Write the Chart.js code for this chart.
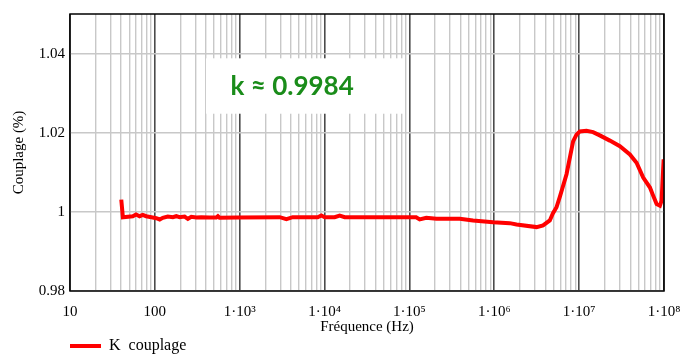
<!DOCTYPE html>
<html>
<head>
<meta charset="utf-8">
<script src="https://cdn.jsdelivr.net/npm/chart.js@4.4.1/dist/chart.umd.min.js"></script>
<style>
html,body{margin:0;padding:0;background:#fff;}
#wrap{width:681px;height:356px;}
</style>
</head>
<body>
<div id="wrap"><canvas id="c" width="681" height="356"></canvas></div>
<script>
// ---- data ----
const freqHz = [40.2, 42, 55, 60, 66, 72, 79, 91, 104, 114, 124, 142, 163, 179, 195, 224, 245, 269, 308, 352, 442, 530, 553, 579, 912,
  2960, 3550, 4210, 8300, 9160, 10030, 13150, 15070, 17260, 1.2e5, 1.32e5, 1.58e5, 2.08e5, 2.28e5, 3.92e5, 5.62e5, 9.68e5,
  1.52e6, 1.83e6, 3.15e6, 3.76e6, 4.51e6, 4.9e6, 5.41e6, 5.92e6, 7.1e6, 8.49e6, 9.3e6, 1.02e7, 1.22e7, 1.46e7, 1.75e7, 2.3e7,
  3.02e7, 3.96e7, 4.75e7, 5.69e7, 6.83e7, 7.45e7, 8.19e7, 8.95e7, 9.37e7, 9.9e7];
const kCoupling = [1.0031, 0.99865, 0.9989, 0.99933, 0.9989, 0.99925, 0.9989, 0.99865, 0.9984, 0.99808, 0.9985, 0.99883, 0.99865, 0.9989, 0.99865, 0.99883, 0.99825, 0.99875, 0.99858, 0.99865, 0.99858, 0.99858, 0.9989, 0.9985, 0.9986,
  0.99865, 0.99815, 0.99865, 0.99865, 0.99908, 0.99865, 0.99865, 0.99908, 0.99865, 0.99862, 0.99808, 0.9985, 0.99825, 0.99825, 0.99825, 0.99783, 0.9974,
  0.99715, 0.99683, 0.99615, 0.99658, 0.99783, 0.99958, 1.00115, 1.0038, 1.0095, 1.01783, 1.0195, 1.02033, 1.0205, 1.02015, 1.01933, 1.018,
  1.01658, 1.0145, 1.0124, 1.00865, 1.00615, 1.0041, 1.002, 1.00158, 1.00283, 1.0133];
const seriesName = 'K  couplage';
const xDecades = [10, 100, 1e3, 1e4, 1e5, 1e6, 1e7, 1e8];
const xTickLabels = ['10', '100', '1\u00b710\u00b3', '1\u00b710\u2074', '1\u00b710\u2075', '1\u00b710\u2076', '1\u00b710\u2077', '1\u00b710\u2078'];
const yTickValues = [0.98, 1.0, 1.02, 1.04];
const yTickLabels = ['0.98', '1', '1.02', '1.04'];
const annotationText = 'k \u2248 0.9984';
const annotationBox = {xMin: 400, xMax: 8.8e4, yMin: 1.0248, yMax: 1.0388, xText: 4150, yText: 1.0316};

const points = freqHz.map((f, i) => ({x: f, y: kCoupling[i]}));
const serif = 'Liberation Serif';

const framePlugin = {
  id: 'frame',
  afterLayout(chart) {
    const lg = chart.legend;
    if (lg) { lg.left = chart.chartArea.left; lg.top = 338; }
  },
  beforeDatasetsDraw(chart) {
    const {ctx, scales: {x, y}} = chart;
    const l = x.getPixelForValue(annotationBox.xMin), r = x.getPixelForValue(annotationBox.xMax);
    const t = y.getPixelForValue(annotationBox.yMax), b = y.getPixelForValue(annotationBox.yMin);
    ctx.save();
    ctx.fillStyle = '#ffffff';
    ctx.fillRect(l, t, r - l, b - t);
    ctx.fillStyle = '#1a8c1a';
    ctx.font = 'bold 26px Lato';
    ctx.textAlign = 'center';
    ctx.textBaseline = 'middle';
    ctx.fillText(annotationText, x.getPixelForValue(annotationBox.xText), y.getPixelForValue(annotationBox.yText));
    ctx.restore();
  },
  afterDraw(chart) {
    const {ctx, chartArea: a} = chart;
    ctx.save();
    ctx.strokeStyle = '#000';
    ctx.lineWidth = 1.5;
    ctx.strokeRect(a.left, a.top, a.right - a.left, a.bottom - a.top);
    ctx.restore();
  }
};

function logGridTicks() {
  const t = [];
  for (let d = 0; d < xDecades.length; d++) {
    t.push({value: xDecades[d], major: true});
    if (d < xDecades.length - 1) for (let m = 2; m <= 9; m++) t.push({value: xDecades[d] * m, major: false});
  }
  return t;
}

new Chart(document.getElementById('c'), {
  type: 'line',
  data: {
    datasets: [{
      label: seriesName,
      data: points,
      borderColor: '#ff0000',
      backgroundColor: '#ff0000',
      borderWidth: 4,
      pointRadius: 0,
      tension: 0,
      pointStyle: 'line'
    }]
  },
  options: {
    responsive: false,
    animation: false,
    layout: {padding: {top: 12, right: 17, bottom: 0, left: 0}},
    plugins: {
      tooltip: {enabled: false},
      legend: {
        position: 'bottom',
        align: 'start',
        labels: {
          usePointStyle: true,
          pointStyle: 'line',
          pointStyleWidth: 31,
          boxHeight: 4,
          padding: 0,
          color: '#000',
          font: {family: serif, size: 16}
        }
      }
    },
    scales: {
      x: {
        type: 'logarithmic',
        min: 10,
        max: 1e8,
        afterBuildTicks(scale) { scale.ticks = logGridTicks(); },
        afterFit(scale) { scale.height = 39; scale.paddingRight = 0; scale.paddingLeft = 0; },
        border: {display: false},
        grid: {
          drawTicks: false,
          color: (c) => (c.tick && c.tick.major) ? '#4a4a4a' : '#c8c8c8',
          lineWidth: (c) => (c.tick && c.tick.major) ? 1.6 : 1.4
        },
        ticks: {
          autoSkip: false,
          maxRotation: 0,
          padding: 12,
          color: '#000',
          font: {family: serif, size: 15},
          callback: (v) => { const i = xDecades.indexOf(v); return i >= 0 ? xTickLabels[i] : ''; }
        },
        title: {display: true, text: 'Fréquence (Hz)', color: '#000', font: {family: serif, size: 15}, padding: {top: 0, bottom: -6}}
      },
      y: {
        type: 'linear',
        min: 0.98,
        max: 1.05,
        afterBuildTicks(scale) { scale.ticks = yTickValues.map(v => ({value: v})); },
        afterFit(scale) { scale.width = 70; },
        border: {display: false},
        grid: {drawTicks: false, color: '#c8c8c8', lineWidth: 1.4},
        ticks: {
          padding: 5,
          color: '#000',
          font: {family: serif, size: 15},
          callback: (v) => { const i = yTickValues.findIndex(t => Math.abs(t - v) < 1e-9); return i >= 0 ? yTickLabels[i] : ''; }
        },
        title: {display: true, text: 'Couplage (%)', color: '#000', font: {family: serif, size: 15}, padding: {top: 10, bottom: 0}}
      }
    }
  },
  plugins: [framePlugin]
});
</script>
</body>
</html>
